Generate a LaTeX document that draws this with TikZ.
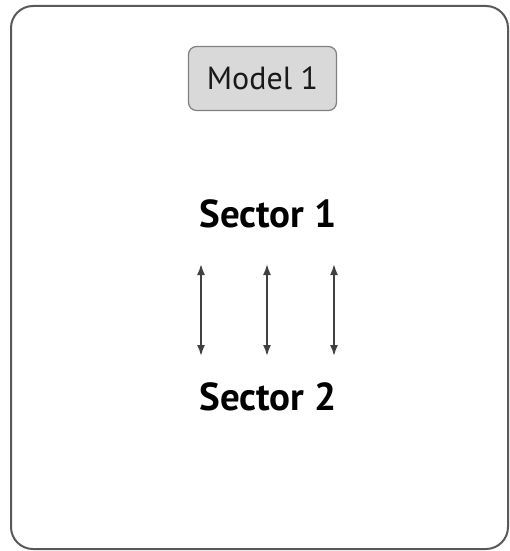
\documentclass[tikz,border=0pt]{standalone}
\usepackage{fontspec}
\setmainfont{PT Sans}
\usetikzlibrary{arrows.meta}
\begin{document}
\begin{tikzpicture}[x=1pt,y=-1pt,
  frame/.style={draw=black!65,line width=2pt,rounded corners=22pt},
  modelbox/.style={draw=black!50,fill=black!15,line width=1.2pt,rounded corners=8pt,minimum width=148pt,minimum height=64pt,font=\fontsize{32}{36}\selectfont,text=black!90},
  sector/.style={font=\bfseries\fontsize{39}{44}\selectfont},
  link/.style={{Latex[length=11pt,width=8pt]}-{Latex[length=11pt,width=8pt]},line width=1.8pt,draw=black!75}]
\useasboundingbox (0,0) rectangle (510,551);
\draw[frame] (11,6) rectangle (508,549);
\node[modelbox] (m) at (262.5,78.5) {Model 1};
\node[sector] (s1) at (268,214) {Sector 1};
\node[sector] (s2) at (268,397) {Sector 2};
\coordinate (a1t) at (201,264); \coordinate (a1b) at (201,356);
\coordinate (a2t) at (267,264); \coordinate (a2b) at (267,356);
\coordinate (a3t) at (334,264); \coordinate (a3b) at (334,356);
\draw[link] (a1t) -- (a1b);
\draw[link] (a2t) -- (a2b);
\draw[link] (a3t) -- (a3b);
\end{tikzpicture}
\end{document}
